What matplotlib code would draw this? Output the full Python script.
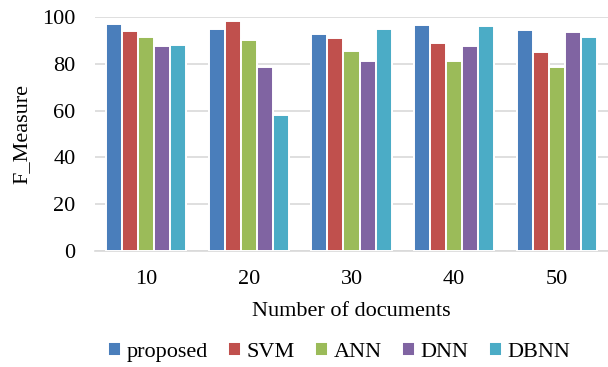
import numpy as np
import matplotlib
matplotlib.use("Agg")
import matplotlib.pyplot as plt

docs = ["10", "20", "30", "40", "50"]
methods = ["proposed", "SVM", "ANN", "DNN", "DBNN"]
proposed = [97.2, 94.7, 92.7, 96.7, 94.6]
svm = [94.0, 98.2, 91.2, 88.7, 85.2]
ann = [91.4, 90.3, 85.4, 81.2, 78.6]
dnn = [87.7, 78.6, 81.2, 87.7, 93.8]
dbnn = [88.0, 58.3, 95.0, 96.0, 91.4]
colors = ["#4a7ebb", "#c0504d", "#9bbb59", "#8064a2", "#4bacc6"]

plt.rcParams["font.family"] = ["Liberation Serif", "DejaVu Serif"]

fig = plt.figure(figsize=(6.08, 3.67), dpi=100)
ax = fig.add_axes([95/608, 1 - 251/367, 1 - 95/608, (251 - 17)/367])

x = np.arange(len(docs))
pitch = 0.156
series = [proposed, svm, ann, dnn, dbnn]
for k, (vals, name) in enumerate(zip(series, methods)):
    ax.bar(x + (k - 2)*pitch, vals, width=pitch, color=colors[k],
           edgecolor="white", linewidth=1.4, label=name, zorder=3)

ax.set_xlim(-0.5, len(docs) - 0.5)
ax.set_ylim(0, 100)
ax.set_yticks(range(0, 101, 20))
ax.set_xticks(x)
ax.set_xticklabels(docs)
ax.grid(axis="y", color="#d9d9d9", linewidth=1.2, zorder=0)
for s in ["top", "right", "left"]:
    ax.spines[s].set_visible(False)
ax.spines["bottom"].set_color("#d9d9d9")
ax.spines["bottom"].set_linewidth(1.2)
ax.tick_params(length=0, labelsize=16)
ax.tick_params(axis="y", pad=14)
ax.tick_params(axis="x", pad=14)

ax.set_ylabel("F_Measure", fontsize=16)
ax.yaxis.label.set_va("center")
ax.yaxis.set_label_coords(-0.142, 0.5)
ax.set_xlabel("Number of documents", fontsize=16)
ax.xaxis.label.set_va("center")
ax.xaxis.set_label_coords(0.5, -0.26)

fig.legend(loc="center", bbox_to_anchor=(339/608, 1 - 352/367), ncol=5,
           frameon=False, fontsize=16, handlelength=0.6, handleheight=0.6,
           handletextpad=0.25, columnspacing=0.9, borderaxespad=0)

fig.savefig("out.png", dpi=100)
